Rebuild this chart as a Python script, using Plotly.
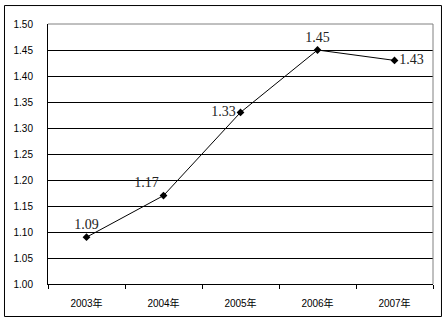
import plotly.graph_objects as go

years = ["2003年", "2004年", "2005年", "2006年", "2007年"]
values = [1.09, 1.17, 1.33, 1.45, 1.43]
label_pos = ["top center", "top left", "middle left", "top center", "middle right"]
y_ticks = [1.00, 1.05, 1.10, 1.15, 1.20, 1.25, 1.30, 1.35, 1.40, 1.45, 1.50]

fig = go.Figure()
fig.add_trace(go.Scatter(
    x=years, y=values, mode="lines+markers+text",
    line=dict(color="black", width=1),
    marker=dict(symbol="diamond", size=6, color="black"),
    text=[f"{v:.2f}" for v in values],
    textposition=label_pos,
    textfont=dict(family="Liberation Serif, serif", size=14, color="#222222"),
    cliponaxis=False,
    showlegend=False,
))

fig.update_layout(
    width=448, height=327,
    margin=dict(l=48, r=15, t=24, b=43),
    paper_bgcolor="white", plot_bgcolor="white",
    font=dict(family="Liberation Sans, Noto Sans CJK SC, sans-serif", size=10, color="black"),
    xaxis=dict(
        type="category", range=[-0.5, 4.5], tickson="boundaries", ticks="outside", ticklen=4,
        tickcolor="black", showline=True, linecolor="black", linewidth=1,
        showgrid=False, ticklabelstandoff=10,
        tickfont=dict(family="Liberation Sans, Noto Sans CJK SC, sans-serif", size=10),
    ),
    yaxis=dict(
        range=[1.0, 1.5], tickvals=y_ticks, tickformat=".2f",
        showgrid=True, gridcolor="black", gridwidth=1,
        showline=True, linecolor="black", linewidth=1,
        ticks="", zeroline=False, ticklabelstandoff=12,
        tickfont=dict(family="Liberation Sans, sans-serif", size=10),
    ),
    shapes=[
        dict(type="path", xref="paper", yref="paper",
             path="M 0,1 L 1,1 L 1,0", line=dict(color="#808080", width=1), layer="above"),
        dict(type="rect", xref="paper", yref="paper",
             x0=-0.113, x1=1.022, y0=-0.125, y1=1.071,
             line=dict(color="black", width=1), layer="above"),
    ],
)

fig.write_html("out.html")
